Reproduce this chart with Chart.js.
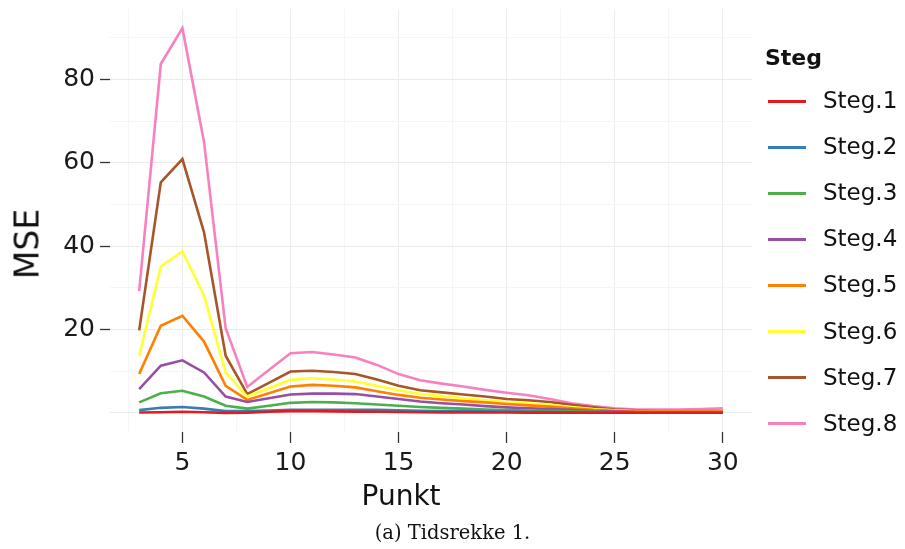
<!DOCTYPE html>
<html>
<head>
<meta charset="utf-8">
<script src="https://cdn.jsdelivr.net/npm/chart.js@4.4.1/dist/chart.umd.min.js"></script>
<style>
  html, body { margin: 0; padding: 0; background: #ffffff; }
  #wrap { position: relative; width: 905px; height: 549px; overflow: hidden; }
  #c { position: absolute; left: 0; top: 0; }
  .txt { position: absolute; font-family: "DejaVu Sans", sans-serif; color: #111; white-space: nowrap; line-height: 1; }
  .legtitle { font-weight: bold; font-size: 22px; }
  .legtext { font-size: 23px; }
  .legline { position: absolute; height: 3px; }
  #xtitle { font-size: 28px; }
  #ytitle { font-size: 33px; transform: translate(-50%, -50%) rotate(-90deg); }
  #caption { position: absolute; left: 0; width: 905px; text-align: center; font-family: "DejaVu Serif", "Liberation Serif", serif; font-size: 19.5px; color: #111; line-height: 1; }
</style>
</head>
<body>
<div id="wrap">
  <canvas id="c" width="905" height="549"></canvas>
  <div id="legend"></div>
  <div id="xtitle" class="txt">Punkt</div>
  <div id="ytitle" class="txt">MSE</div>
  <div id="caption">(a) Tidsrekke 1.</div>
</div>
<script>
// ---- data ----
const punkt = [3,4,5,6,7,8,9,10,11,12,13,14,15,16,17,18,19,20,21,22,23,24,25,26,27,28,29,30];
const seriesNames = ["Steg.1","Steg.2","Steg.3","Steg.4","Steg.5","Steg.6","Steg.7","Steg.8"];
const steg1 = [0.07,0.15,0.25,0.15,0.0,0.05,0.25,0.4,0.4,0.35,0.3,0.25,0.2,0.15,0.12,0.1,0.1,0.08,0.06,0.05,0.04,0.03,0.02,0.02,0.02,0.02,0.02,0.02];
const steg2 = [0.65,1.2,1.4,1.0,0.4,0.4,0.55,0.7,0.7,0.7,0.7,0.7,0.6,0.5,0.45,0.4,0.35,0.3,0.25,0.2,0.15,0.1,0.1,0.05,0.05,0.05,0.05,0.05];
const steg3 = [2.5,4.7,5.3,3.9,1.7,1.0,1.7,2.4,2.6,2.5,2.3,2.0,1.7,1.4,1.2,1.0,0.8,0.65,0.55,0.45,0.35,0.25,0.15,0.1,0.1,0.1,0.1,0.1];
const steg4 = [5.7,11.3,12.6,9.7,3.9,2.6,3.5,4.4,4.6,4.6,4.5,3.9,3.3,2.7,2.3,2.0,1.6,1.3,1.1,0.9,0.7,0.4,0.3,0.2,0.2,0.2,0.2,0.2];
const steg5 = [9.3,20.9,23.3,17.1,6.5,3.1,4.7,6.3,6.7,6.5,6.1,5.2,4.3,3.6,3.2,2.8,2.5,2.1,1.8,1.5,1.1,0.7,0.5,0.3,0.3,0.3,0.3,0.3];
const steg6 = [13.7,35.1,38.7,28.1,9.7,3.9,5.9,7.9,8.3,8.0,7.5,6.5,5.4,4.5,4.0,3.5,3.0,2.5,2.2,1.9,1.4,0.9,0.6,0.4,0.4,0.4,0.4,0.4];
const steg7 = [19.8,55.3,60.9,43.3,13.7,4.5,7.2,9.9,10.1,9.8,9.3,8.0,6.5,5.4,4.9,4.4,3.9,3.3,3.0,2.6,1.9,1.3,0.8,0.6,0.5,0.5,0.5,0.5];
const steg8 = [29.2,83.7,92.3,65.0,20.3,6.2,10.3,14.3,14.6,14.0,13.3,11.5,9.3,7.8,7.0,6.3,5.5,4.8,4.2,3.3,2.3,1.6,1.1,0.8,0.8,0.8,0.9,1.1];
const xTicks = [2.5,5,7.5,10,12.5,15,17.5,20,22.5,25,27.5,30];
const yTicks = [0,10,20,30,40,50,60,70,80,90];
const colors = ["#E41A1C","#377EB8","#4DAF4A","#984EA3","#FF7F00","#FFFF33","#A65628","#F781BF"];

const allSeries = [steg1,steg2,steg3,steg4,steg5,steg6,steg7,steg8];
const datasets = allSeries.map((vals, i) => ({
  label: seriesNames[i],
  data: punkt.map((x, j) => ({x: x, y: vals[j]})),
  borderColor: colors[i],
  backgroundColor: colors[i],
  borderWidth: 2.6,
  pointRadius: 0,
  tension: 0,
  fill: false
}));

const FONT = "'DejaVu Sans', sans-serif";
const MAJOR = "#EBEBEB", MINOR = "#F5F5F5";

new Chart(document.getElementById('c'), {
  type: 'line',
  data: { datasets: datasets },
  options: {
    responsive: false,
    animation: false,
    events: [],
    layout: { padding: { left: 0, right: 153, top: 9, bottom: 0 } },
    plugins: { legend: { display: false }, tooltip: { enabled: false } },
    scales: {
      x: {
        type: 'linear',
        min: 1.65, max: 31.35,
        afterBuildTicks: s => { s.ticks = xTicks.map(v => ({value: v})); },
        afterFit: s => { s.height = 117; s.paddingLeft = 0; s.paddingRight = 0; },
        border: { display: false },
        grid: {
          color: c => (c.tick && c.tick.value % 5 === 0) ? MAJOR : MINOR,
          lineWidth: 1,
          tickLength: 11,
          tickWidth: 1.3,
          tickColor: c => (c.tick && c.tick.value % 5 === 0) ? '#333333' : 'rgba(0,0,0,0)'
        },
        ticks: {
          autoSkip: false, maxRotation: 0,
          padding: 5,
          color: '#1A1A1A',
          font: { family: FONT, size: 25 },
          callback: v => (v % 5 === 0) ? String(v) : ''
        },
        title: { display: false }
      },
      y: {
        type: 'linear',
        min: -4.6, max: 96.9,
        afterBuildTicks: s => { s.ticks = yTicks.map(v => ({value: v})); },
        afterFit: s => { s.width = 110; s.paddingTop = 0; s.paddingBottom = 0; },
        border: { display: false },
        grid: {
          color: c => (c.tick && c.tick.value % 20 === 0) ? MAJOR : MINOR,
          lineWidth: 1,
          tickLength: 10,
          tickWidth: 1.3,
          tickColor: c => (c.tick && c.tick.value % 20 === 0 && c.tick.value > 0) ? '#333333' : 'rgba(0,0,0,0)'
        },
        ticks: {
          autoSkip: false,
          padding: 5,
          color: '#1A1A1A',
          font: { family: FONT, size: 25 },
          callback: v => (v % 20 === 0 && v > 0) ? String(v) : ''
        },
        title: { display: false }
      }
    }
  }
});

// axis titles as HTML text
const xt = document.getElementById('xtitle');
xt.style.left = (401 - xt.offsetWidth / 2) + 'px';
xt.style.top = (496 - xt.offsetHeight / 2) + 'px';
const yt = document.getElementById('ytitle');
yt.style.left = '27px';
yt.style.top = '244px';

// HTML legend built from the same arrays
const leg = document.getElementById('legend');
const t = document.createElement('div');
t.className = 'txt legtitle';
t.textContent = 'Steg';
t.style.left = '765px'; t.style.top = '47px';
leg.appendChild(t);
seriesNames.forEach((name, i) => {
  const cy = 101 + i * 46.1;
  const ln = document.createElement('div');
  ln.className = 'legline';
  ln.style.left = '768px'; ln.style.width = '38px';
  ln.style.top = (cy - 1.5) + 'px';
  ln.style.background = colors[i];
  leg.appendChild(ln);
  const tx = document.createElement('div');
  tx.className = 'txt legtext';
  tx.textContent = name;
  tx.style.left = '823px';
  tx.style.top = (cy - 12) + 'px';
  leg.appendChild(tx);
});
const cap = document.getElementById('caption');
cap.style.top = (533 - cap.offsetHeight / 2) + 'px';
</script>
</body>
</html>
